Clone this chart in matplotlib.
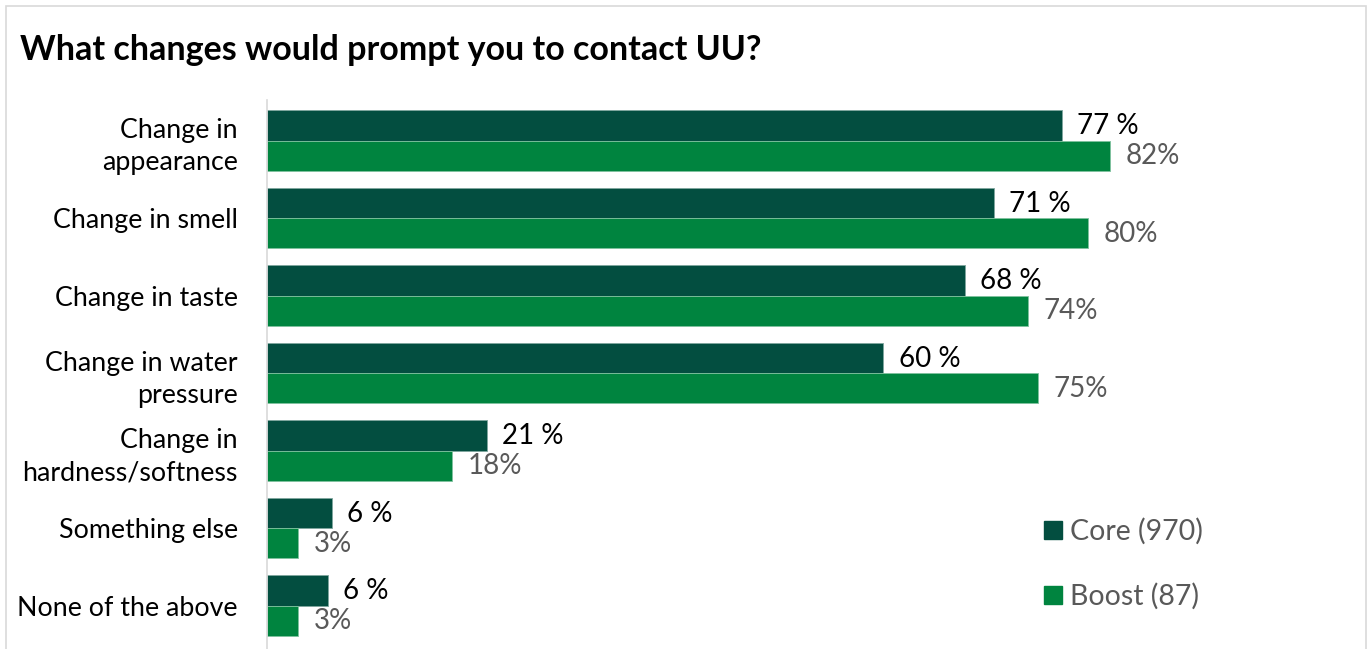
import matplotlib.pyplot as plt
from matplotlib.patches import Rectangle
import numpy as np

plt.rcParams['font.family'] = ['Lato', 'DejaVu Sans']

# chart data
categories = ["Change in\nappearance", "Change in smell", "Change in taste",
              "Change in water\npressure", "Change in\nhardness/softness",
              "Something else", "None of the above"]
core = [77.0, 70.4, 67.6, 59.7, 21.3, 6.3, 5.9]
boost = [81.7, 79.6, 73.7, 74.7, 17.9, 3.0, 3.0]
core_labels = ["77 %", "71 %", "68 %", "60 %", "21 %", "6 %", "6 %"]
boost_labels = ["82%", "80%", "74%", "75%", "18%", "3%", "3%"]
series_names = ["Core (970)", "Boost (87)"]

DARK = '#034E40'
GREEN = '#00843F'
GREY = '#595959'

W, H = 1370, 649
fig = plt.figure(figsize=(W / 100, H / 100), dpi=100)

# light grey outer border (bottom edge is cut off in the original)
fig.patches.append(Rectangle((6 / W, -0.05), 1360 / W, 1.05 - 6 / H,
                             transform=fig.transFigure, fill=False,
                             edgecolor='#D9D9D9', linewidth=1.2))

fig.text(20 / W, 1 - 50 / H, "What changes would prompt you to contact UU?",
         fontsize=24.5, fontweight='bold', va='center', ha='left')

ax = fig.add_axes([267 / W, 0, 1032 / W, 1 - 100 / H])

y = np.arange(len(categories))
h = 0.39
ax.barh(y - h / 2, core, height=h, color=DARK, edgecolor='#7FA69E', linewidth=0.6)
ax.barh(y + h / 2, boost, height=h, color=GREEN, edgecolor='#7FC29E', linewidth=0.6)

for i in range(len(categories)):
    ax.text(core[i] + 1.5, y[i] - h / 2 + 0.01, core_labels[i], va='center',
            ha='left', fontsize=20, color='black')
    ax.text(boost[i] + 1.5, y[i] + h / 2 + 0.01, boost_labels[i], va='center',
            ha='left', fontsize=20, color=GREY)

ax.set_xlim(0, 100)
ax.set_ylim(6.56, -0.523)
ax.set_yticks(y)
ax.set_yticklabels(categories, fontsize=19.3, multialignment='right',
                   linespacing=1.35)
ax.tick_params(axis='y', length=0, pad=21)
ax.set_xticks([])
for s in ['top', 'right', 'bottom']:
    ax.spines[s].set_visible(False)
ax.spines['left'].set_color('#D9D9D9')
ax.spines['left'].set_linewidth(1.2)

# legend
handles = [Rectangle((0, 0), 1, 1, color=DARK), Rectangle((0, 0), 1, 1, color=GREEN)]
leg = fig.legend(handles, series_names, loc='center left',
                 bbox_to_anchor=(1044 / W, 1 - 564 / H), frameon=False,
                 fontsize=20.5, labelspacing=1.35, handlelength=0.62,
                 handleheight=0.62, handletextpad=0.3, borderpad=0,
                 borderaxespad=0)
for t in leg.get_texts():
    t.set_color(GREY)

fig.savefig("out.png", dpi=100)
